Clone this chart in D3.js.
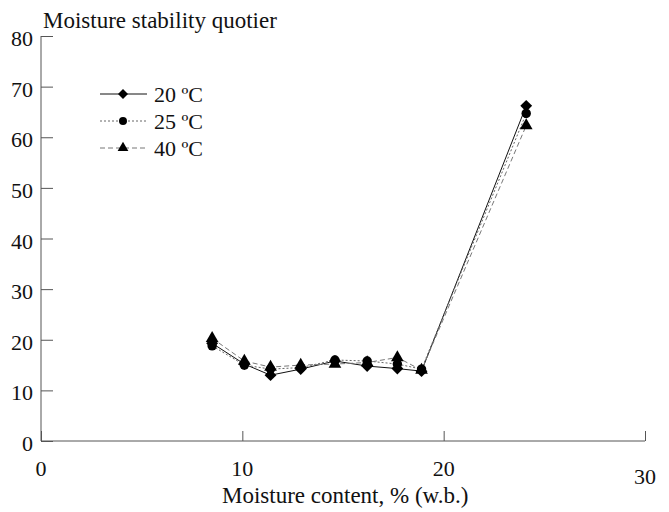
<!DOCTYPE html>
<html>
<head>
<meta charset="utf-8">
<script src="https://cdn.jsdelivr.net/npm/d3@7"></script>
<style>
  body { margin: 0; background: #fff; }
  text { font-family: "Liberation Serif", "DejaVu Serif", serif; fill: #111; }
</style>
</head>
<body>
<div class="canvas"></div>
<script>
// data
const moisture = [8.5, 10.1, 11.4, 12.9, 14.6, 16.2, 17.7, 18.9, 24.1];
const temp20 = [19.3, 15.2, 13.0, 14.2, 15.8, 14.8, 14.3, 13.8, 66.2];
const temp25 = [18.8, 15.0, 14.2, 14.5, 16.0, 15.8, 15.2, 14.2, 64.7];
const temp40 = [20.3, 15.8, 14.6, 15.0, 15.2, 15.5, 16.5, 14.0, 62.3];
const seriesNames = ['20 ºC', '25 ºC', '40 ºC'];
const xTicks = [0, 10, 20, 30];
const yTicks = [0, 10, 20, 30, 40, 50, 60, 70, 80];

const width = 669, height = 512;
const svg = d3.select('.canvas')
    .append('svg')
    .attr('width', width)
    .attr('height', height);

// plot area in pixels
const x = d3.scaleLinear().domain([0, 30]).range([41, 645]);
const y = d3.scaleLinear().domain([0, 80]).range([441, 36]);

const axisColor = '#555';

// y axis, ticks pointing inward
const yAxis = d3.axisRight(y).tickValues(yTicks).tickSize(12).tickFormat('');
const yG = svg.append('g').attr('transform', `translate(${x(0)},0)`).call(yAxis);
yG.select('.domain').attr('stroke', axisColor).attr('d', `M0,${y(80)}V${y(0)}`);
yG.selectAll('.tick line').attr('stroke', axisColor);

// y labels
svg.selectAll('.ylab')
    .data(yTicks)
    .enter().append('text')
    .attr('class', 'ylab')
    .attr('x', 33)
    .attr('y', d => y(d) + 10)
    .attr('text-anchor', 'end')
    .attr('font-size', 22)
    .text(d => d);

// x axis, ticks pointing up
const xAxis = d3.axisTop(x).tickValues(xTicks).tickSize(10).tickFormat('');
const xG = svg.append('g').attr('transform', `translate(0,${y(0)})`).call(xAxis);
xG.select('.domain').attr('stroke', axisColor).attr('d', `M${x(0)},0H${x(30)}`);
xG.selectAll('.tick line').attr('stroke', axisColor);

svg.selectAll('.xlab')
    .data(xTicks)
    .enter().append('text')
    .attr('class', 'xlab')
    .attr('x', d => x(d))
    .attr('y', d => d === 30 ? 484 : 476)
    .attr('text-anchor', 'middle')
    .attr('font-size', 22)
    .text(d => d);

// axis titles
svg.append('text')
    .attr('x', 222).attr('y', 503)
    .attr('font-size', 23)
    .text('Moisture content, % (w.b.)');

svg.append('text')
    .attr('x', 43).attr('y', 28)
    .attr('font-size', 23)
    .text('Moisture stability quotier');

// series - diamond is a square turned 45deg
const series = [
    {name: seriesNames[0], values: temp20, dash: null, color: '#111', shape: d3.symbolSquare, rot: 45, size: 70},
    {name: seriesNames[1], values: temp25, dash: '2,2', color: '#666', shape: d3.symbolCircle, rot: 0, size: 70},
    {name: seriesNames[2], values: temp40, dash: '5,3', color: '#777', shape: d3.symbolTriangle, rot: 0, size: 70}
];

const line = d3.line()
    .x((d, i) => x(moisture[i]))
    .y(d => y(d));

series.forEach(s => {
    svg.append('path')
        .attr('d', line(s.values))
        .attr('fill', 'none')
        .attr('stroke', s.color)
        .attr('stroke-width', 1)
        .attr('stroke-dasharray', s.dash);
});

series.forEach(s => {
    svg.selectAll(null)
        .data(s.values)
        .enter().append('path')
        .attr('d', d3.symbol().type(s.shape).size(s.size))
        .attr('transform', (d, i) => `translate(${x(moisture[i])},${y(d)}) rotate(${s.rot})`)
        .attr('fill', '#000');
});

// legend
const legend = svg.append('g');
series.forEach((s, i) => {
    const ly = 94 + i * 27;
    legend.append('line')
        .attr('x1', 100).attr('x2', 147)
        .attr('y1', ly).attr('y2', ly)
        .attr('stroke', s.color)
        .attr('stroke-dasharray', s.dash);
    legend.append('path')
        .attr('d', d3.symbol().type(s.shape).size(50))
        .attr('transform', `translate(123,${ly}) rotate(${s.rot})`)
        .attr('fill', '#000');
    legend.append('text')
        .attr('x', 154).attr('y', ly + 8)
        .attr('font-size', 22)
        .text(s.name);
});
</script>
</body>
</html>
